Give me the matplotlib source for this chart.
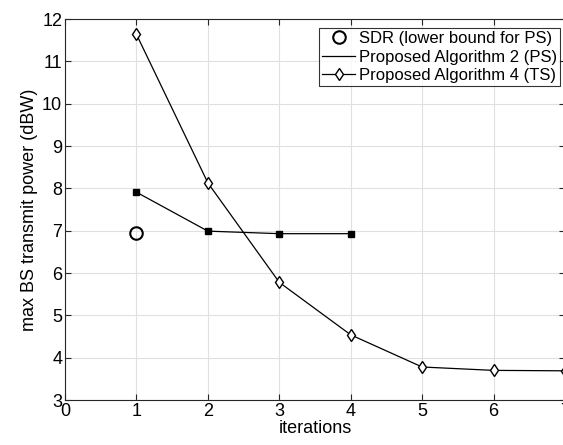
import matplotlib.pyplot as plt
from matplotlib.lines import Line2D

plt.rcParams["font.family"] = ["Liberation Sans", "DejaVu Sans"]

sdr_x = [1]
sdr_y = [6.94]

alg2_x = [1, 2, 3, 4]
alg2_y = [7.91, 6.99, 6.93, 6.93]

alg4_x = [1, 2, 3, 4, 5, 6, 7]
alg4_y = [11.64, 8.13, 5.78, 4.54, 3.78, 3.70, 3.69]

fig = plt.figure(figsize=(5.63, 4.45), dpi=100)
ax = fig.add_axes([0.1155, 0.1011, 0.888, 0.856])

ax.plot(sdr_x, sdr_y, "o", color="k", markerfacecolor="none", markersize=9, markeredgewidth=1.5)
ax.plot(alg2_x, alg2_y, "-", color="k", linewidth=0.9)
ax.plot(alg2_x, alg2_y, "s", color="k", markersize=5)
ax.plot(alg4_x, alg4_y, "-d", color="k", linewidth=0.9, markerfacecolor="white", markersize=6)

ax.set_xlim(0, 7)
ax.set_ylim(3, 12)
ax.set_xticks(range(0, 8))
ax.set_yticks(range(3, 13))
ax.grid(True, color="#e0e0e0", linewidth=0.8)
ax.set_axisbelow(True)
ax.tick_params(direction="in", top=True, right=True, labelsize=13, length=4, color="#262626", pad=2)
for s in ax.spines.values():
    s.set_color("#262626")
ax.set_xlabel("iterations", fontsize=13, labelpad=0)
ax.set_ylabel("max BS transmit power (dBW)", fontsize=13, labelpad=3)

handles = [
    Line2D([], [], linestyle="none", marker="o", color="k", markerfacecolor="none", markersize=9, markeredgewidth=1.5),
    Line2D([], [], color="k", linewidth=0.9),
    Line2D([], [], color="k", linewidth=0.9, marker="d", markerfacecolor="white", markersize=6),
]
labels = ["SDR (lower bound for PS)", "Proposed Algorithm 2 (PS)", "Proposed Algorithm 4 (TS)"]
leg = ax.legend(handles, labels, loc="upper right", bbox_to_anchor=(0.99, 0.977), fontsize=12,
                frameon=True, fancybox=False, edgecolor="k", handlelength=2.0, handletextpad=0.2,
                borderpad=0.2, labelspacing=0.2, borderaxespad=0)
leg.get_frame().set_linewidth(0.8)

fig.savefig("out.png", dpi=100)
